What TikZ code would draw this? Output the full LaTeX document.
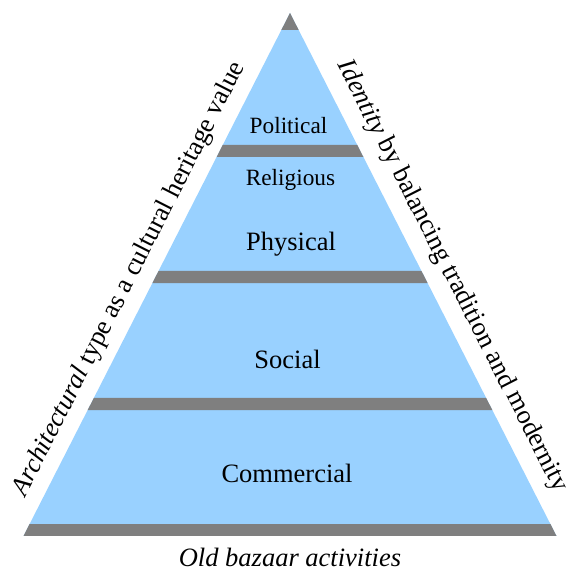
\documentclass[tikz,border=0pt]{standalone}
\usepackage{fontspec}
\setmainfont{Liberation Serif}
\usetikzlibrary{calc}
\definecolor{pyrblue}{RGB}{153,209,255}
\definecolor{pyrgrey}{RGB}{127,127,127}
\tikzset{
  lbl/.style={inner sep=0pt, font=\fontsize{26.5}{29}\selectfont},
  sml/.style={inner sep=0pt, font=\fontsize{23.3}{26}\selectfont},
  band/.style={fill=pyrgrey, draw=none},
}
\begin{document}
\begin{tikzpicture}[x=1pt,y=1pt]
\useasboundingbox (0,0) rectangle (569,573);
\coordinate (A) at (290,560);
\coordinate (BL) at (23.5,37);
\coordinate (BR) at (556.5,37);
% blue body
\fill[pyrblue] (A) -- (BL) -- (BR) -- cycle;
% grey tip
\fill[band] (A) -- ($(A)!0.0325!(BL)$) -- ($(A)!0.0325!(BR)$) -- cycle;
% bands
\foreach \a/\b in {0.2524/0.2753, 0.4933/0.5163, 0.7361/0.7591, 0.9771/1.0}{
  \fill[band] ($(A)!\a!(BL)$) -- ($(A)!\b!(BL)$) -- ($(A)!\b!(BR)$) -- ($(A)!\a!(BR)$) -- cycle;
}
\node[sml] (political) at (288.5,447) {Political};
\node[sml] (religious) at (290.5,393) {Religious};
\node[lbl] (physical) at (291,329) {Physical};
\node[lbl] (social) at (287.5,214) {Social};
\node[lbl] (commercial) at (287,100) {Commercial};
\node[lbl] (bottom) at (290,16) {\itshape Old bazaar activities};
\node[lbl, rotate=63] (left) at (129.5,294) {\textit{Architectural} type as a cultural heritage value};
\node[lbl, rotate=-63] (right) at (452,297) {\textit{Identity} by balancing tradition and modernity};
\end{tikzpicture}
\end{document}
